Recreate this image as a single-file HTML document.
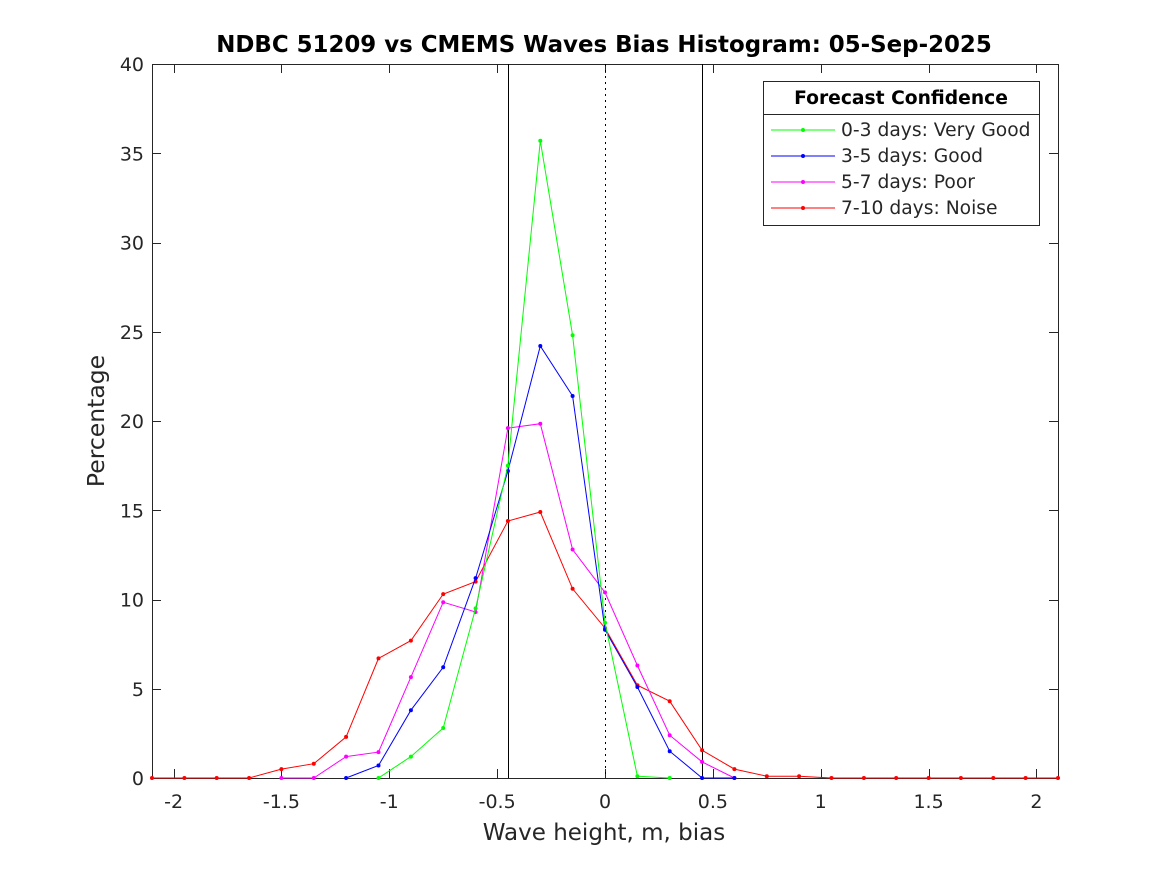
<!DOCTYPE html>
<html><head><meta charset="utf-8"><style>html,body{margin:0;padding:0;background:#fff}svg{display:block}text{font-family:"DejaVu Sans","Liberation Sans",sans-serif;fill:#262626}</style></head>
<body>
<svg id="s" width="1167" height="875" xmlns="http://www.w3.org/2000/svg"></svg>
<script>
const s=document.getElementById('s');
const L=152,R=1058,T=64,B=778;
const X=v=>L+(v+2.1)*(R-L)/4.2, Y=v=>B-v*(B-T)/40;
const C=v=>Math.round(v)+0.5;
let h='<rect x="0" y="0" width="1167" height="875" fill="#fff"/>';
h+=`<rect x="${L+0.5}" y="${T+0.5}" width="${R-L}" height="${B-T}" fill="#fff" stroke="#262626" stroke-width="1"/>`;
[-2,-1.5,-1,-0.5,0,0.5,1,1.5,2].forEach(v=>{const x=C(X(v));
h+=`<line x1="${x}" y1="${B}" x2="${x}" y2="${B-9}" stroke="#262626"/><line x1="${x}" y1="${T}" x2="${x}" y2="${T+9}" stroke="#262626"/>`;
h+=`<text x="${X(v)}" y="${B+30}" font-size="19" text-anchor="middle">${v}</text>`;});
for(let v=0;v<=40;v+=5){const y=C(Y(v));
h+=`<line x1="${L}" y1="${y}" x2="${L+9}" y2="${y}" stroke="#262626"/><line x1="${R}" y1="${y}" x2="${R-9}" y2="${y}" stroke="#262626"/>`;
h+=`<text x="${L-8}" y="${Y(v)+7}" font-size="19" text-anchor="end">${v}</text>`;}
h+=`<line x1="${C(X(-0.45))}" y1="${T}" x2="${C(X(-0.45))}" y2="${B}" stroke="#000"/>`;
h+=`<line x1="${C(X(0.45))}" y1="${T}" x2="${C(X(0.45))}" y2="${B}" stroke="#000"/>`;
h+=`<line x1="${C(X(0))}" y1="${T}" x2="${C(X(0))}" y2="${B}" stroke="#000" stroke-dasharray="2,4"/>`;
const xs=[];for(let i=0;i<=28;i++)xs.push(-2.1+0.15*i);
const series=[
['#ff0000',0,29,[0,0,0,0,0.5,0.8,2.3,6.7,7.7,10.3,11,14.4,14.9,10.6,8.4,5.2,4.3,1.55,0.5,0.1,0.1,0,0,0,0,0,0,0,0]],
['#ff00ff',4,19,[0,0,0,0,0,0,1.2,1.45,5.65,9.85,9.3,19.6,19.85,12.8,10.4,6.3,2.4,0.9,0,0,0,0,0,0,0,0,0,0,0]],
['#0000ff',6,19,[0,0,0,0,0,0,0,0.7,3.8,6.2,11.2,17.2,24.2,21.4,8.3,5.1,1.5,0,0,0,0,0,0,0,0,0,0,0,0]],
['#00ff00',7,17,[0,0,0,0,0,0,0,0,1.2,2.8,9.5,17.5,35.7,24.8,8.7,0.1,0,0,0,0,0,0,0,0,0,0,0,0,0]]];
series.forEach(([c,st,lim,d])=>{let pp=[];for(let i=st;i<lim;i++)pp.push(X(xs[i]).toFixed(1)+','+Y(d[i]).toFixed(1));
h+=`<polyline points="${pp.join(' ')}" fill="none" stroke="${c}" stroke-width="1"/>`;
pp.forEach(q=>{const [a,b]=q.split(',');h+=`<circle cx="${a}" cy="${b}" r="2" fill="${c}"/>`;});});
h+=`<rect x="763.5" y="81.5" width="276" height="144" fill="#fff" stroke="#262626"/>`;
h+=`<line x1="763" y1="114.5" x2="1039" y2="114.5" stroke="#262626"/>`;
h+=`<text x="901" y="104" font-size="18.7" font-weight="bold" text-anchor="middle" style="fill:#000">Forecast Confidence</text>`;
[['#00ff00','0-3 days: Very Good'],['#0000ff','3-5 days: Good'],['#ff00ff','5-7 days: Poor'],['#ff0000','7-10 days: Noise']].forEach(([c,t],i)=>{const y=130+i*26;
h+=`<line x1="771" y1="${y}" x2="835" y2="${y}" stroke="${c}"/><circle cx="803" cy="${y}" r="2" fill="${c}"/>`;
h+=`<text x="841" y="${y+6}" font-size="18.7">${t}</text>`;});
h+=`<text x="604" y="52" font-size="22.9" font-weight="bold" text-anchor="middle" style="fill:#000">NDBC 51209 vs CMEMS Waves Bias Histogram: 05-Sep-2025</text>`;
h+=`<text x="604" y="840" font-size="23" text-anchor="middle">Wave height, m, bias</text>`;
h+=`<text transform="translate(104,421) rotate(-90)" font-size="23.5" text-anchor="middle">Percentage</text>`;
s.innerHTML=h;
</script>
</body></html>
